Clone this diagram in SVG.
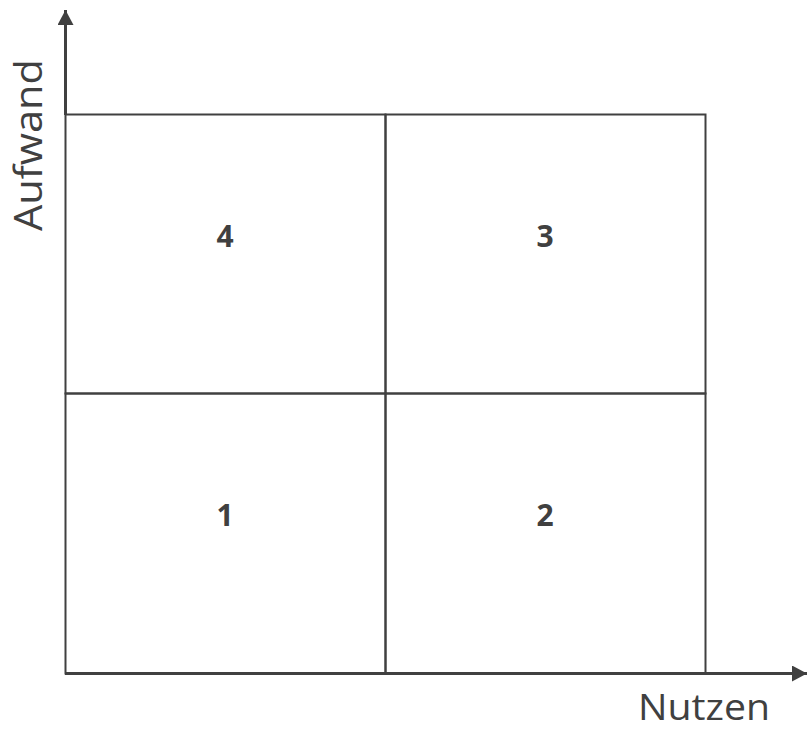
<svg xmlns="http://www.w3.org/2000/svg" width="808" height="731" viewBox="0 0 808 731">
<style>
.grid{stroke:#404040;stroke-width:2;fill:none}
.axis{stroke:#404040;stroke-width:3;fill:none}
.num{font-family:"Open Sans","Liberation Sans",sans-serif;font-weight:bold;font-size:30px;fill:#404040;text-anchor:middle}
.lbl{font-family:"Open Sans","Liberation Sans",sans-serif;font-size:38px;fill:#404040;text-anchor:middle}
.lblx{font-size:37px}
</style>
<defs>
<marker id="ah" viewBox="0 0 15 16" refX="15" refY="8" markerWidth="15" markerHeight="16" markerUnits="userSpaceOnUse" orient="auto">
<path d="M0,0 L15,8 L0,16 Z" fill="#404040"/>
</marker>
</defs>
<rect width="808" height="731" fill="#ffffff"/>
<g id="connectors">
<line class="axis" x1="65.5" y1="115" x2="65.5" y2="10" marker-end="url(#ah)"/>
<line class="axis" x1="65" y1="673.5" x2="807" y2="673.5" marker-end="url(#ah)"/>
</g>
<g id="cell4"><rect class="grid" x="65.5" y="114.5" width="320" height="279"/><text class="num" x="225" y="247">4</text></g>
<g id="cell3"><rect class="grid" x="385.5" y="114.5" width="320" height="279"/><text class="num" x="545" y="247">3</text></g>
<g id="cell1"><rect class="grid" x="65.5" y="393.5" width="320" height="280"/><text class="num" x="225" y="526">1</text></g>
<g id="cell2"><rect class="grid" x="385.5" y="393.5" width="320" height="280"/><text class="num" x="545" y="526">2</text></g>
<g id="label-y"><text class="lbl" transform="translate(42,145) rotate(-90)" textLength="172" lengthAdjust="spacingAndGlyphs">Aufwand</text></g>
<g id="label-x"><text class="lbl lblx" x="704" y="720" textLength="132" lengthAdjust="spacingAndGlyphs">Nutzen</text></g>
</svg>
